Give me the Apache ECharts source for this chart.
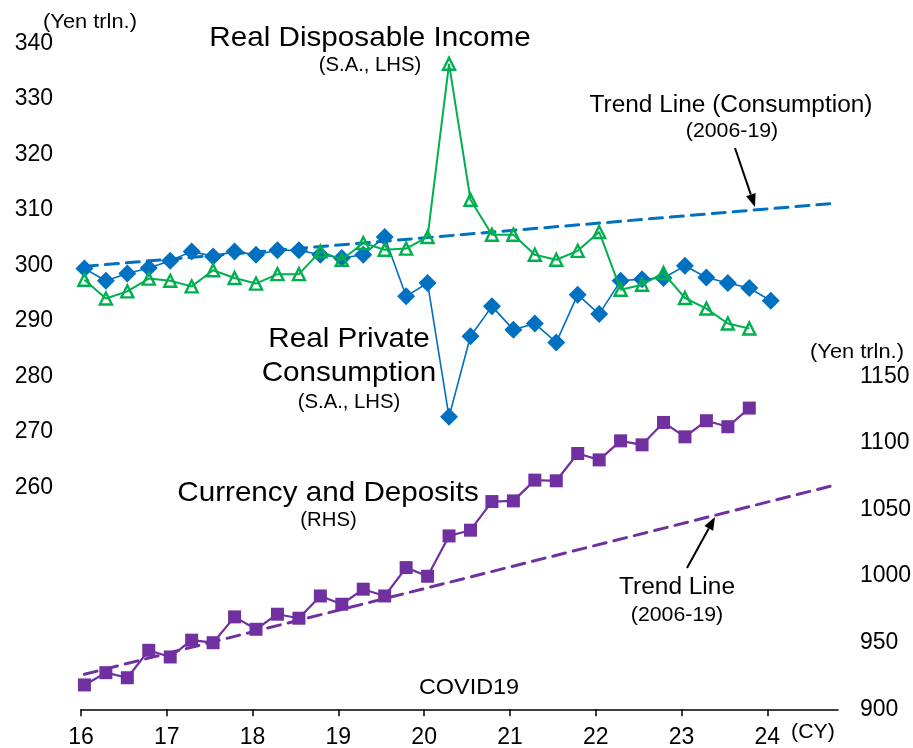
<!DOCTYPE html>
<html>
<head>
<meta charset="utf-8">
<script src="https://cdn.jsdelivr.net/npm/echarts@6/dist/echarts.min.js"></script>
<style>
html,body{margin:0;padding:0;background:#fff;}
#chart{width:913px;height:748px;}
</style>
</head>
<body>
<div id="chart"></div>
<script>
// ---- Data (quarterly, 2016Q1 onward) ----
const startYear = 16;
const consumption = [299.4, 297.2, 298.5, 299.5, 300.8, 302.5, 301.6, 302.5, 301.9, 302.7, 302.7, 301.9,
  301.3, 301.9, 305.1, 294.4, 296.8, 272.7, 287.2, 292.6, 288.4, 289.5, 286.1, 294.7,
  291.2, 297.2, 297.5, 297.7, 299.9, 297.8, 296.8, 295.9, 293.6];
const income = [297.4, 294.0, 295.3, 297.6, 297.2, 296.2, 299.1, 297.7, 296.7, 298.4, 298.4, 302.5,
  301.0, 304.0, 302.8, 303.0, 305.1, 336.3, 311.8, 305.5, 305.5, 301.9, 301.0, 302.6,
  306.0, 295.6, 296.5, 298.6, 294.1, 292.2, 289.5, 288.6];
const deposits = [918.3, 927.5, 923.7, 944.3, 939.3, 951.9, 950.0, 969.4, 960.1, 971.4, 968.4, 985.1,
  978.9, 990.2, 985.1, 1006.4, 999.9, 1030.2, 1034.5, 1056.0, 1056.5, 1072.1, 1071.6, 1092.1,
  1087.3, 1101.6, 1098.6, 1115.4, 1104.6, 1116.7, 1112.2, 1126.2];
const trendConsumption = [[16.04, 299.8], [24.81, 311.2]];
const trendDeposits = [[16.04, 926.3], [24.80, 1068.6]];
const xTicks = [16, 17, 18, 19, 20, 21, 22, 23, 24];
const leftTicks = [260, 270, 280, 290, 300, 310, 320, 330, 340];
const rightTicks = [900, 950, 1000, 1050, 1100, 1150];

const toXY = arr => arr.map((v, i) => [startYear + i * 0.25 + 0.04, v]);

const BLUE = '#0070C0', GREEN = '#00B050', PURPLE = '#7030A0';
const FONT = '"Liberation Sans", Arial, sans-serif';

function arrow(x1, y1, x2, y2) {
  const ang = Math.atan2(y2 - y1, x2 - x1), L = 13, W = 5;
  const bx = x2 - L * Math.cos(ang), by = y2 - L * Math.sin(ang);
  const px = -Math.sin(ang) * W, py = Math.cos(ang) * W;
  return [
    {type: 'line', shape: {x1, y1, x2: bx, y2: by}, style: {stroke: '#000', lineWidth: 2}},
    {type: 'polygon', shape: {points: [[x2, y2], [bx + px, by + py], [bx - px, by - py]]}, style: {fill: '#000'}}
  ];
}
function txt(x, y, text, size, sx) {
  return {type: 'text', x, y, scaleX: sx || 1.04, style: {text, fontSize: size, fontFamily: FONT, fill: '#000', align: 'center', verticalAlign: 'middle'}};
}

const chart = echarts.init(document.getElementById('chart'), null, {renderer: 'canvas'});
chart.setOption({
  animation: false,
  backgroundColor: '#fff',
  grid: {left: 81, right: 75, top: 15.5, bottom: 38.7, containLabel: false, outerBoundsMode: 'none'},
  xAxis: {
    type: 'value', min: 16, max: 24.824,
    splitLine: {show: false},
    axisLine: {show: true, lineStyle: {color: '#000', width: 1.5}},
    axisTick: {show: true, customValues: xTicks, length: 7, lineStyle: {color: '#000', width: 1.5}},
    axisLabel: {customValues: xTicks, fontSize: 23, fontFamily: FONT, color: '#000', margin: 17}
  },
  yAxis: [{
    type: 'value', min: 220, max: 345, position: 'left',
    splitLine: {show: false}, axisLine: {show: false}, axisTick: {show: false},
    axisLabel: {customValues: leftTicks, fontSize: 23, fontFamily: FONT, color: '#000', margin: 28,
      formatter: v => String(v)}
  }, {
    type: 'value', min: 900, max: 1421, position: 'right',
    splitLine: {show: false}, axisLine: {show: false}, axisTick: {show: false},
    axisLabel: {customValues: rightTicks, fontSize: 23, fontFamily: FONT, color: '#000', margin: 22,
      formatter: v => String(v)}
  }],
  series: [
    {type: 'line', data: trendConsumption, yAxisIndex: 0, symbol: 'none', z: 1,
      lineStyle: {color: BLUE, width: 3, type: [13, 8], cap: 'round'}},
    {type: 'line', data: trendDeposits, yAxisIndex: 1, symbol: 'none', z: 1,
      lineStyle: {color: PURPLE, width: 3, type: [13, 8], cap: 'round'}},
    {type: 'line', data: toXY(consumption), yAxisIndex: 0, symbol: 'diamond', symbolSize: 18, z: 2,
      lineStyle: {color: BLUE, width: 1.6}, itemStyle: {color: BLUE}},
    {type: 'line', data: toXY(income), yAxisIndex: 0, symbol: 'triangle', symbolSize: 12, z: 3,
      lineStyle: {color: GREEN, width: 2}, itemStyle: {color: 'rgba(0,0,0,0)', borderColor: GREEN, borderWidth: 2.4}},
    {type: 'line', data: toXY(deposits), yAxisIndex: 1, symbol: 'rect', symbolSize: 13, z: 2,
      lineStyle: {color: PURPLE, width: 2.2}, itemStyle: {color: PURPLE}}
  ],
  graphic: [
    txt(90, 23, '(Yen trln.)', 19.5, 1.12),
    txt(857, 353, '(Yen trln.)', 19.5, 1.12),
    txt(370, 38, 'Real Disposable Income', 28.5),
    txt(370, 66, '(S.A., LHS)', 19.5),
    txt(731, 106, 'Trend Line (Consumption)', 23.5),
    txt(732, 131, '(2006-19)', 20.5),
    txt(349, 339, 'Real Private', 28.5),
    txt(349, 373, 'Consumption', 28.5),
    txt(349, 403, '(S.A., LHS)', 19.5),
    txt(328, 493, 'Currency and Deposits', 28.5),
    txt(328.5, 521, '(RHS)', 19.5),
    txt(677, 588, 'Trend Line', 23.5),
    txt(677, 615, '(2006-19)', 20.5),
    txt(469, 688, 'COVID19', 22.5),
    txt(813, 732, '(CY)', 20.5),
    ...arrow(735, 148, 755, 207),
    ...arrow(687, 568, 715, 517)
  ]
});
</script>
</body>
</html>
